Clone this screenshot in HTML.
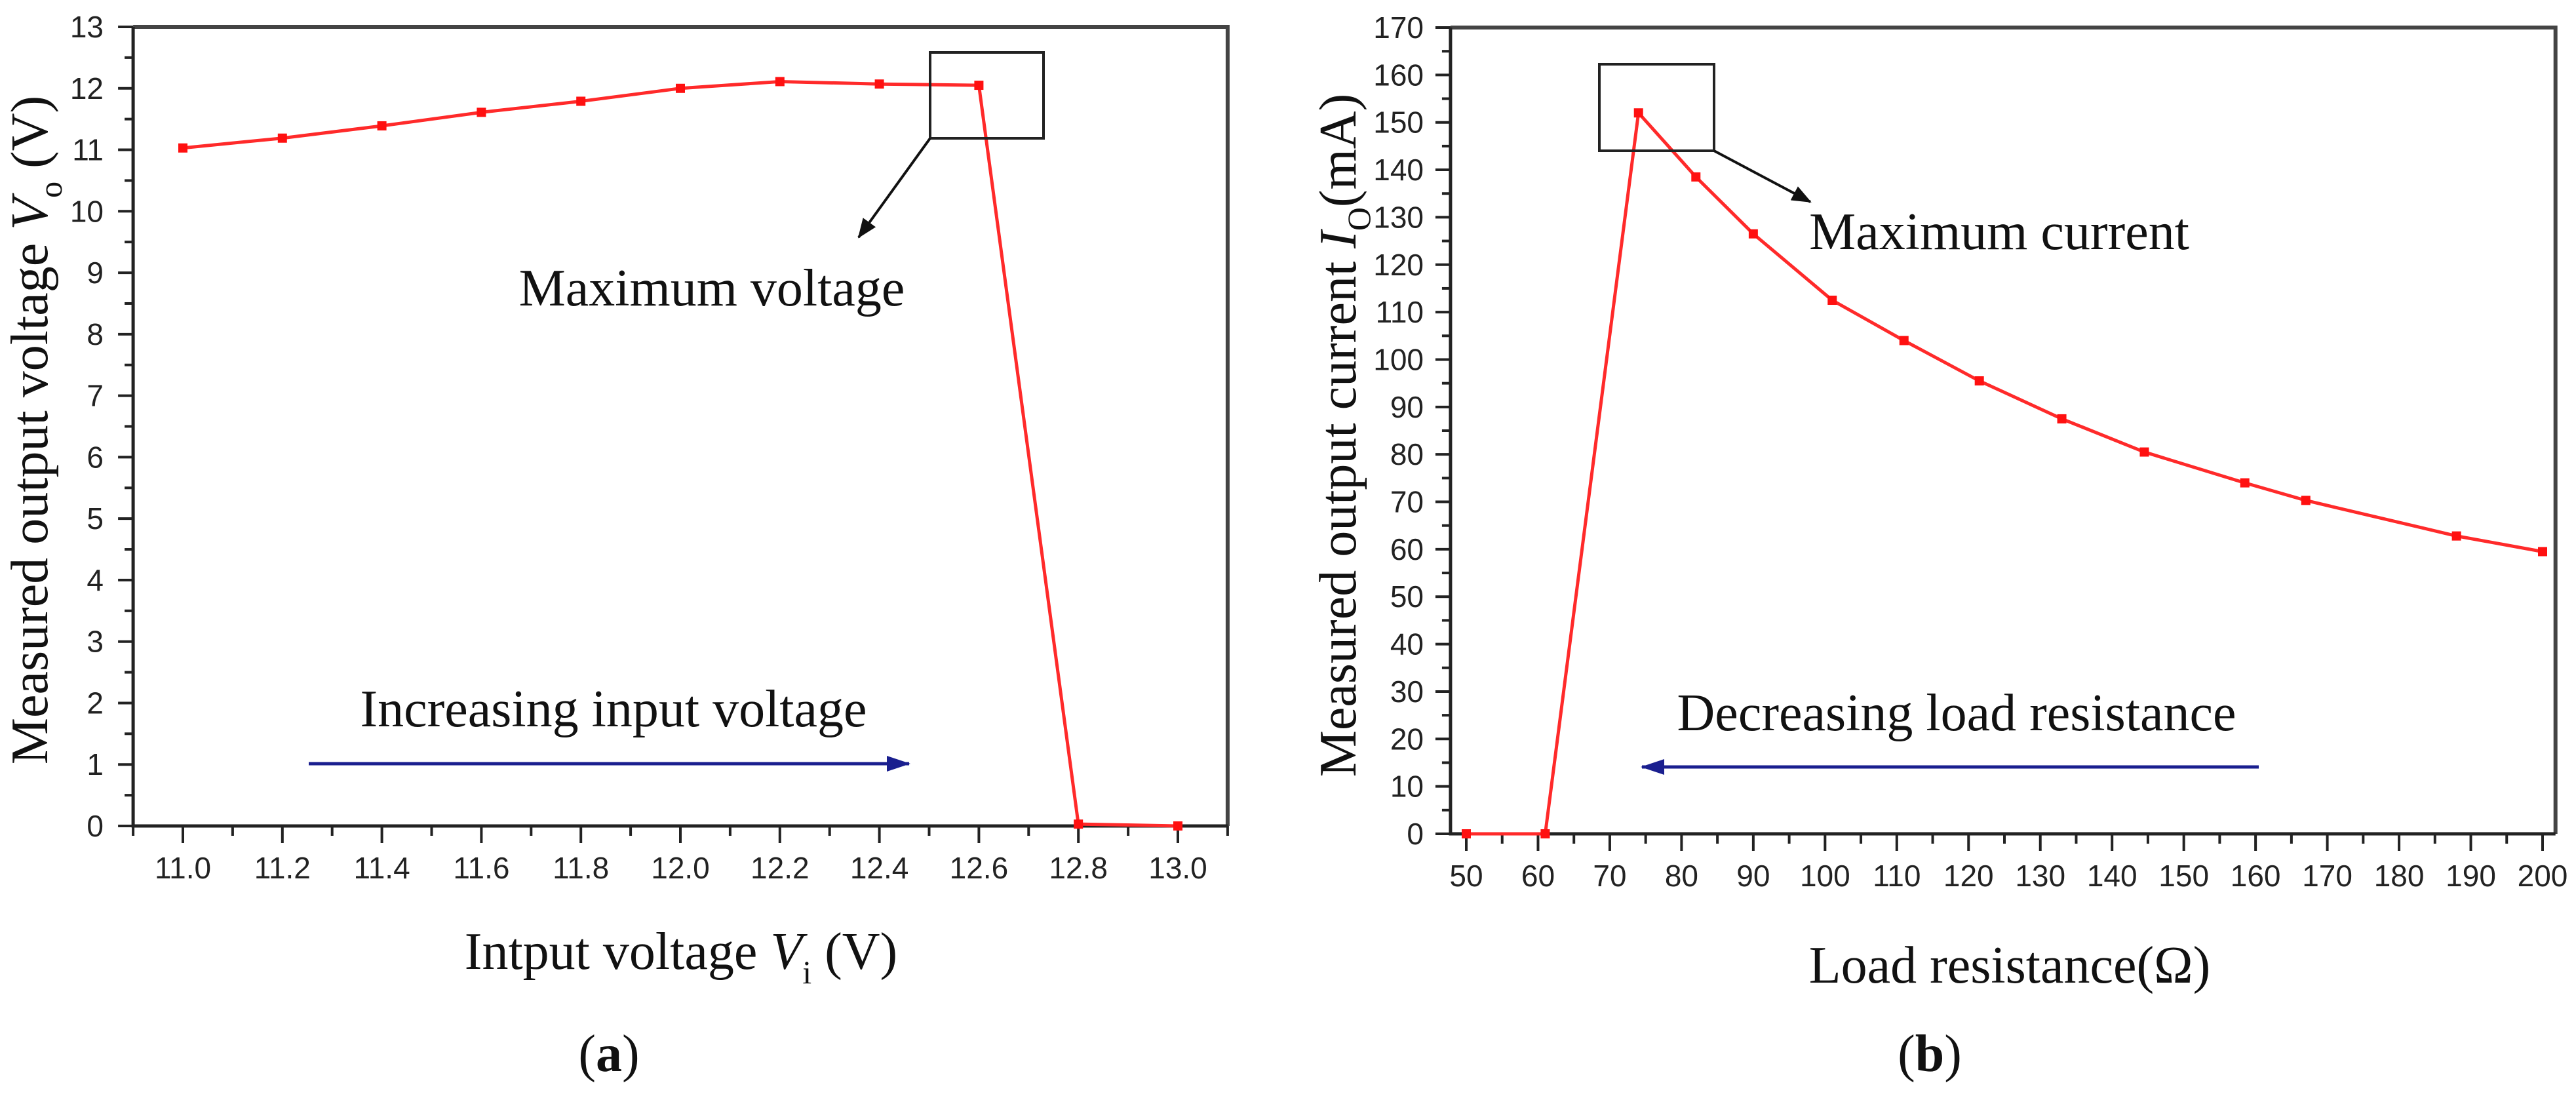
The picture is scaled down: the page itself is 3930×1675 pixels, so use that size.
<!DOCTYPE html>
<html><head><meta charset="utf-8"><style>
html,body{margin:0;padding:0;background:#fff;}
svg{display:block;}
.tick{font-family:"Liberation Sans",Arial,sans-serif;font-size:46px;fill:#222;}
.lbl{font-family:"Liberation Serif","Times New Roman",serif;fill:#111;}
</style></head><body>
<svg id="fig" width="3930" height="1675" viewBox="0 0 3930 1675" xmlns="http://www.w3.org/2000/svg">
<g id="panelA"></g>
<g id="panelB"></g>
<defs>
<marker id="arrK" markerWidth="30" markerHeight="24" refX="28" refY="12" orient="auto" markerUnits="userSpaceOnUse"><path d="M0,0 L30,12 L0,24 z" fill="#111"/></marker>
<marker id="arrN" markerWidth="36" markerHeight="24" refX="34" refY="12" orient="auto" markerUnits="userSpaceOnUse"><path d="M0,0 L36,12 L0,24 z" fill="#1a1f8f"/></marker>
</defs>
</svg>
<script>
// Panel (a) data
const aX = [11.0, 11.2, 11.4, 11.6, 11.8, 12.0, 12.2, 12.4, 12.6, 12.8, 13.0];
const aY = [11.03, 11.19, 11.39, 11.61, 11.79, 12.0, 12.11, 12.07, 12.05, 0.03, 0.0];
const aXTicks = ["11.0","11.2","11.4","11.6","11.8","12.0","12.2","12.4","12.6","12.8","13.0"];
const aYTicks = ["0","1","2","3","4","5","6","7","8","9","10","11","12","13"];
// Panel (b) data
const bX = [50, 61, 74, 82, 90, 101, 111, 121.5, 133, 144.5, 158.5, 167, 188, 200];
const bY = [0, 0, 152, 138.5, 126.5, 112.5, 104, 95.5, 87.5, 80.5, 74, 70.3, 62.8, 59.5];
const bXTicks = ["50","60","70","80","90","100","110","120","130","140","150","160","170","180","190","200"];
const bYTicks = ["0","10","20","30","40","50","60","70","80","90","100","110","120","130","140","150","160","170"];

const NS = "http://www.w3.org/2000/svg";
function mk(parent, tag, attrs, text){
  const e = document.createElementNS(NS, tag);
  for (const k in attrs) e.setAttribute(k, attrs[k]);
  if (text !== undefined) e.textContent = text;
  parent.appendChild(e);
  return e;
}

function panel(g, cfg){
  const sx = v => cfg.x0 + (v - cfg.xmin) / (cfg.xmax - cfg.xmin) * (cfg.x1 - cfg.x0);
  const sy = v => cfg.y0 - (v - cfg.ymin) / (cfg.ymax - cfg.ymin) * (cfg.y0 - cfg.y1);
  const L = sx(cfg.fxmin), R = sx(cfg.fxmax), T = sy(cfg.ymax), B = sy(cfg.ymin);
  const fr = mk(g, 'path', {d:`M${L},${T} L${R},${T} L${R},${B}`, stroke:'#444', 'stroke-width':6, fill:'none'});
  
  
  const ax = mk(g, 'path', {d:`M${L},${T} L${L},${B} L${R},${B}`, stroke:'#222', 'stroke-width':5, fill:'none'});
  
  
  cfg.yTicks.forEach((t, i) => {
    const v = parseFloat(t), y = sy(v);
    mk(g, 'line', {x1:L-23, x2:L, y1:y, y2:y, stroke:'#222', 'stroke-width':4});
    const tx = mk(g, 'text', {x:cfg.yLabelRight, y:y+16, 'text-anchor':'end', class:'tick'}, t);
    
    
    if (i < cfg.yTicks.length - 1) {
      const ym = sy(v + cfg.yStep/2);
      mk(g, 'line', {x1:L-13, x2:L, y1:ym, y2:ym, stroke:'#222', 'stroke-width':4});
    }
  });
  cfg.xTicks.forEach((t, i) => {
    const v = parseFloat(t), x = sx(v);
    mk(g, 'line', {x1:x, x2:x, y1:B, y2:B+26, stroke:'#222', 'stroke-width':4});
    const tx = mk(g, 'text', {x:x, y:B+80, 'text-anchor':'middle', class:'tick'}, t);
    
    
    [v - cfg.xStep/2, v + cfg.xStep/2].forEach(m => {
      if (m >= cfg.fxmin && m <= cfg.fxmax && (i === 0 || m > v)) {
        const xm = sx(m);
        mk(g, 'line', {x1:xm, x2:xm, y1:B, y2:B+15, stroke:'#222', 'stroke-width':4});
      }
    });
  });
  const pts = cfg.xs.map((v, i) => `${sx(v)},${sy(cfg.ys[i])}`).join(' ');
  const ln = mk(g, 'polyline', {points:pts, fill:'none', stroke:'#ff2a2a', 'stroke-width':5});
  
  
  cfg.xs.forEach((v, i) => {
    const r = mk(g, 'rect', {x:sx(v)-7, y:sy(cfg.ys[i])-7, width:14, height:14, fill:'#ff1010'});
    
    
  });
}

panel(document.getElementById('panelA'), {
  xmin:11.0, xmax:13.0, x0:279, x1:1797, fxmin:10.9, fxmax:13.1,
  ymin:0, ymax:13, y0:1260, y1:41, yStep:1, xStep:0.2,
  xTicks:aXTicks, yTicks:aYTicks, xs:aX, ys:aY, yLabelRight:158
});
panel(document.getElementById('panelB'), {
  xmin:50, xmax:200, x0:2237, x1:3879, fxmin:47.8, fxmax:201.8,
  ymin:0, ymax:170, y0:1272, y1:42, yStep:10, xStep:10,
  xTicks:bXTicks, yTicks:bYTicks, xs:bX, ys:bY, yLabelRight:2172
});
</script>
<script>
const svg = document.getElementById('fig');
function add(tag, attrs, text, name){
  const e = document.createElementNS("http://www.w3.org/2000/svg", tag);
  for (const k in attrs) e.setAttribute(k, attrs[k]);
  if (text !== undefined) e.innerHTML = text;
  
  
  svg.appendChild(e);
  return e;
}
add('rect', {x:1419, y:80, width:173, height:131, fill:'none', stroke:'#222', 'stroke-width':4}, undefined, 'max-voltage-box');
add('line', {x1:1419, y1:211, x2:1310, y2:362, stroke:'#111', 'stroke-width':4, 'marker-end':'url(#arrK)'}, undefined, 'max-voltage-arrow');
add('text', {x:1086, y:466, 'text-anchor':'middle', class:'lbl', 'font-size':80}, 'Maximum voltage', 'max-voltage-label');
add('text', {x:936, y:1108, 'text-anchor':'middle', class:'lbl', 'font-size':80}, 'Increasing input voltage', 'increasing-input-label');
add('line', {x1:471, y1:1165, x2:1387, y2:1165, stroke:'#1a1f8f', 'stroke-width':5, 'marker-end':'url(#arrN)'}, undefined, 'increasing-arrow');
add('text', {x:1039, y:1478, 'text-anchor':'middle', class:'lbl', 'font-size':80}, 'Intput voltage <tspan font-style="italic">V</tspan><tspan font-size="50" dy="22">i</tspan><tspan dy="-22"> (V)</tspan>', 'x-axis-title-a');
add('text', {x:0, y:0, 'text-anchor':'middle', class:'lbl', 'font-size':80, transform:'translate(72,656) rotate(-90)'}, 'Measured output voltage <tspan font-style="italic">V</tspan><tspan font-size="50" dy="22">o</tspan><tspan dy="-22"> (V)</tspan>', 'y-axis-title-a');
add('text', {x:929, y:1634, 'text-anchor':'middle', class:'lbl', 'font-size':80}, '(<tspan font-weight="bold">a</tspan>)', 'caption-a');
add('rect', {x:2440, y:98, width:175, height:132, fill:'none', stroke:'#222', 'stroke-width':4}, undefined, 'max-current-box');
add('line', {x1:2615, y1:230, x2:2762, y2:308, stroke:'#111', 'stroke-width':4, 'marker-end':'url(#arrK)'}, undefined, 'max-current-arrow');
add('text', {x:3050, y:380, 'text-anchor':'middle', class:'lbl', 'font-size':80}, 'Maximum current', 'max-current-label');
add('text', {x:2985, y:1114, 'text-anchor':'middle', class:'lbl', 'font-size':80}, 'Decreasing load resistance', 'decreasing-load-label');
add('line', {x1:3446, y1:1170, x2:2505, y2:1170, stroke:'#1a1f8f', 'stroke-width':5, 'marker-end':'url(#arrN)'}, undefined, 'decreasing-arrow');
add('text', {x:3066, y:1499, 'text-anchor':'middle', class:'lbl', 'font-size':80}, 'Load resistance(Ω)', 'x-axis-title-b');
add('text', {x:0, y:0, 'text-anchor':'middle', class:'lbl', 'font-size':80, transform:'translate(2068,664) rotate(-90)'}, 'Measured output current <tspan font-style="italic">I</tspan><tspan font-size="50" dy="22">O</tspan><tspan dy="-22">(mA)</tspan>', 'y-axis-title-b');
add('text', {x:2944, y:1634, 'text-anchor':'middle', class:'lbl', 'font-size':80}, '(<tspan font-weight="bold">b</tspan>)', 'caption-b');
</script>
</body></html>
